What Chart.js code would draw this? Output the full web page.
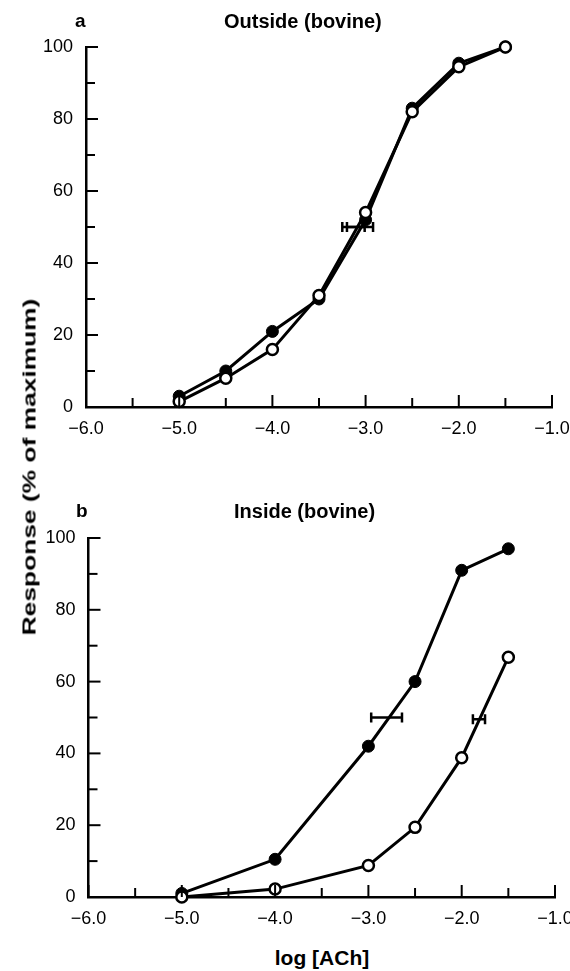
<!DOCTYPE html>
<html>
<head>
<meta charset="utf-8">
<script src="https://cdn.jsdelivr.net/npm/chart.js@4.4.1/dist/chart.umd.min.js"></script>
<style>
  body { margin: 0; background: #fff; width: 570px; height: 971px; position: relative; overflow: hidden; font-family: 'Liberation Sans', Arial, sans-serif; }
  .box { position: absolute; left: 0; width: 570px; }
  .txt { position: absolute; font-weight: bold; font-size: 20px; line-height: 20px; white-space: nowrap; color: #000; }
</style>
</head>
<body>
<div class="box" style="top:0;height:440px"><canvas id="chartA" width="570" height="440"></canvas></div>
<div class="box" style="top:460px;height:480px"><canvas id="chartB" width="570" height="480"></canvas></div>

<div class="txt" style="left:75px;top:11px;font-size:19px">a</div>
<div class="txt" style="left:224px;top:11px">Outside (bovine)</div>
<div class="txt" style="left:76px;top:501px;font-size:19px">b</div>
<div class="txt" style="left:234px;top:501px">Inside (bovine)</div>
<div class="txt" id="xlab" style="left:322px;top:947px;font-size:21px;line-height:21px">log [ACh]</div>
<div class="txt" id="ylab" style="left:29px;top:467px;font-size:19px;line-height:19px">Response (% of maximum)</div>

<script>
// panel a : outside (bovine)
const xA = [-5, -4.5, -4, -3.5, -3, -2.5, -2, -1.5];
const filledA = [3, 10, 21, 30, 52, 83, 95.5, 100];
const openA = [1.5, 8, 16, 31, 54, 82, 94.5, 100];
const barsA = [[-3.25, -3.01, 50], [-3.20, -2.92, 50]];

// panel b : inside (bovine)
const xB = [-5, -4, -3, -2.5, -2, -1.5];
const filledB = [1, 10.5, 42, 60, 91, 97];
const openB = [0, 2.2, 8.8, 19.4, 38.8, 66.8];
const barsB = [[-2.97, -2.64, 50], [-1.88, -1.75, 49.5]];

// tick labels
const xMajor = [-6, -5, -4, -3, -2, -1];
const xLabels = ['\u22126.0', '\u22125.0', '\u22124.0', '\u22123.0', '\u22122.0', '\u22121.0'];
const yMajor = [0, 20, 40, 60, 80, 100];
const yLabels = ['0', '20', '40', '60', '80', '100'];

const tickFont = { family: "'Liberation Sans', Arial, sans-serif", size: 18 };

const inwardTicks = {
  id: 'inwardTicks',
  afterDatasetsDraw(chart) {
    const { ctx, chartArea: a, scales: { x, y } } = chart;
    ctx.save();
    ctx.strokeStyle = '#000';
    ctx.lineWidth = 2;
    x.ticks.forEach(t => {
      const px = x.getPixelForValue(t.value);
      const len = Number.isInteger(t.value) ? 12 : 9;
      ctx.beginPath(); ctx.moveTo(px, a.bottom); ctx.lineTo(px, a.bottom - len); ctx.stroke();
    });
    y.ticks.forEach(t => {
      const py = y.getPixelForValue(t.value);
      const len = t.value % 20 === 0 ? 12 : 9;
      ctx.beginPath(); ctx.moveTo(a.left, py); ctx.lineTo(a.left + len, py); ctx.stroke();
    });
    ctx.restore();
  }
};

const hBars = {
  id: 'hBars',
  afterDatasetsDraw(chart, args, opts) {
    const { ctx, scales: { x, y } } = chart;
    ctx.save();
    ctx.strokeStyle = '#000';
    ctx.lineWidth = 2.5;
    (opts.bars || []).forEach(([lo, hi, v]) => {
      const x1 = x.getPixelForValue(lo), x2 = x.getPixelForValue(hi), py = y.getPixelForValue(v);
      ctx.beginPath();
      ctx.moveTo(x1, py); ctx.lineTo(x2, py);
      ctx.moveTo(x1, py - 5); ctx.lineTo(x1, py + 5);
      ctx.moveTo(x2, py - 5); ctx.lineTo(x2, py + 5);
      ctx.stroke();
    });
    ctx.restore();
  }
};

const series = function (xs, ys, open) {
  return {
    data: xs.map((v, i) => ({ x: v, y: ys[i] })),
    borderColor: '#000',
    borderWidth: 3,
    pointRadius: open ? 5.5 : 6,
    pointBorderWidth: open ? 2.5 : 1,
    pointBackgroundColor: open ? '#fff' : '#000',
    pointBorderColor: '#000',
    clip: false,
    tension: 0,
  };
};

const crearPanel = function (id, xs, filled, open, bars, box) {
  return new Chart(document.getElementById(id).getContext('2d'), {
    type: 'line',
    data: { datasets: [series(xs, open, true), series(xs, filled, false)] },
    options: {
      responsive: false,
      animation: false,
      events: [],
      layout: { padding: { top: box.top, right: box.right, left: 0, bottom: 0 } },
      plugins: { legend: { display: false }, tooltip: { enabled: false }, hBars: { bars: bars } },
      scales: {
        x: {
          type: 'linear', min: -6, max: -1,
          grid: { display: false, drawTicks: false },
          border: { display: true, color: '#000', width: 2.5 },
          ticks: {
            stepSize: 0.5, autoSkip: false, maxRotation: 0, padding: 11, color: '#000', font: tickFont,
            callback: v => { const i = xMajor.indexOf(v); return i < 0 ? '' : xLabels[i]; },
          },
          afterFit: s => { s.height = box.xh; s.paddingLeft = 0; s.paddingRight = 0; },
        },
        y: {
          min: 0, max: 100,
          grid: { display: false, drawTicks: false },
          border: { display: true, color: '#000', width: 2.5 },
          ticks: {
            stepSize: 10, autoSkip: false, padding: 13, color: '#000', font: tickFont,
            callback: v => { const i = yMajor.indexOf(v); return i < 0 ? '' : yLabels[i]; },
          },
          afterFit: s => { s.width = box.left; },
        },
      },
    },
    plugins: [inwardTicks, hBars],
  });
};

crearPanel('chartA', xA, filledA, openA, barsA, { top: 47, right: 18, left: 86, xh: 33 });
crearPanel('chartB', xB, filledB, openB, barsB, { top: 78, right: 15, left: 88.5, xh: 43 });

// x label centred, y label stretched to its length in the figure
const xl = document.getElementById('xlab');
xl.style.transform = 'translateX(-50%)';
const yl = document.getElementById('ylab');
const ky = 337 / yl.offsetWidth;
yl.style.transform = 'translate(-50%, -50%) rotate(-90deg) scaleX(' + ky.toFixed(3) + ')';
</script>
</body>
</html>
